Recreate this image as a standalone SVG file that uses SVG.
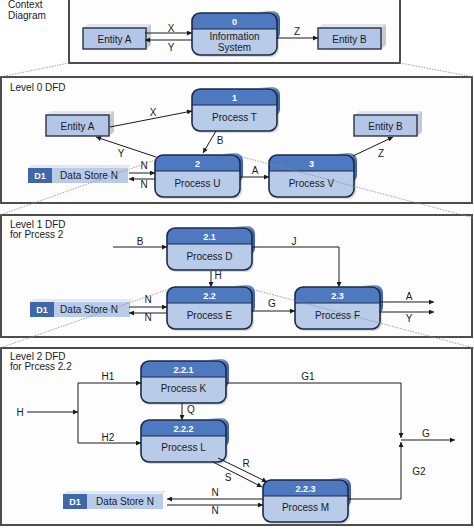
<svg xmlns="http://www.w3.org/2000/svg" width="474" height="529" viewBox="0 0 474 529">
<style>
text{font-family:"Liberation Sans",Arial,sans-serif;font-size:10px;fill:#1a1a1a}
.c{text-anchor:middle}
.h{font-size:9px;font-weight:bold;fill:#fff;text-anchor:middle}
.ln{fill:none;stroke:#1a1a1a;stroke-width:1}
.ar{marker-end:url(#ah)}
.pn{fill:#fdfdfd;stroke:#4d4d4d;stroke-width:2}
.dl{stroke:#8c8c8c;stroke-width:0.8;stroke-dasharray:1.5 1.2;fill:none}
</style>
<defs>
<marker id="ah" viewBox="0 0 10 10" refX="10" refY="5" markerWidth="7" markerHeight="5" markerUnits="userSpaceOnUse" orient="auto"><path d="M0,0 L10,5 L0,10 Z" fill="#1a1a1a"/></marker>
<linearGradient id="sh" x1="0" x2="1" y1="0" y2="0"><stop offset="0.75" stop-color="#3560a8" stop-opacity="0"/><stop offset="1" stop-color="#3560a8"/></linearGradient>
<g id="proc">
<rect x="2" y="2" width="85" height="42" rx="8" fill="#8f9bb0" opacity="0.35"/>
<rect x="3" y="-2" width="85" height="30" rx="8" fill="url(#sh)"/>
<rect width="85" height="42" rx="8" fill="#b8cbe9"/>
<path d="M0,16 V8 A8,8 0 0 1 8,0 H77 A8,8 0 0 1 85,8 V16 Z" fill="#4e78bf"/>
<path d="M0,16 H85" stroke="#1d2a45" stroke-width="1"/>
<rect width="85" height="42" rx="8" fill="none" stroke="#1d2a45" stroke-width="1.6"/>
</g>
<g id="ent">
<path d="M0,0 L5,-4 H68 L63,0 Z" fill="#e1e5ec"/>
<path d="M63,0 L68,-4 V17 L63,21 Z" fill="#c4cad5"/>
<rect width="63" height="21" fill="#b3c6e7" stroke="#2b3340" stroke-width="1.4"/>
</g>
<g id="ds">
<path d="M0,0 L4,-3 H103 L100,0 Z" fill="#e4e8ef"/>
<rect width="100" height="15" fill="#b9cbeb"/>
<rect width="24" height="15" fill="#3f67aa"/>
<text x="12" y="11" class="h">D1</text>
</g>
</defs>

<!-- panels -->
<g id="panels">
<rect class="pn" x="69" y="-1" width="331" height="64"/>
<rect class="pn" x="1" y="77" width="471" height="126"/>
<rect class="pn" x="1" y="215" width="471" height="122"/>
<rect class="pn" x="1" y="348" width="471" height="177"/>
<text x="8" y="8">Context</text>
<text x="8" y="19">Diagram</text>
<text x="10" y="91">Level 0 DFD</text>
<text x="10" y="228">Level 1 DFD</text>
<text x="10" y="238">for Prcess 2</text>
<text x="10" y="360">Level 2 DFD</text>
<text x="10" y="370">for Prcess 2.2</text>
</g>

<!-- nodes: context -->
<g id="ctx-entityA" transform="translate(83,28)"><use href="#ent"/><text x="31.5" y="14.5" class="c">Entity A</text></g>
<g id="ctx-infosys" transform="translate(192,13)"><use href="#proc"/><text x="42.5" y="11.5" class="h">0</text><text x="42.5" y="27" class="c">Information</text><text x="42.5" y="37.5" class="c">System</text></g>
<g id="ctx-entityB" transform="translate(318,28)"><use href="#ent"/><text x="31.5" y="14.5" class="c">Entity B</text></g>

<!-- level 0 -->
<g id="l0-entityA" transform="translate(46,115)"><use href="#ent"/><text x="31.5" y="14.5" class="c">Entity A</text></g>
<g id="l0-entityB" transform="translate(354,115)"><use href="#ent"/><text x="31.5" y="14.5" class="c">Entity B</text></g>
<g id="l0-p1" transform="translate(192,89)"><use href="#proc"/><text x="42.5" y="11.5" class="h">1</text><text x="42.5" y="32" class="c">Process T</text></g>
<g id="l0-p2" transform="translate(155,155)"><use href="#proc"/><text x="42.5" y="11.5" class="h">2</text><text x="42.5" y="32" class="c">Process U</text></g>
<g id="l0-p3" transform="translate(269,155)"><use href="#proc"/><text x="42.5" y="11.5" class="h">3</text><text x="42.5" y="32" class="c">Process V</text></g>
<g id="l0-ds" transform="translate(28,168)"><use href="#ds"/><text x="61" y="11" class="c">Data Store N</text></g>

<!-- level 1 -->
<g id="l1-p21" transform="translate(167,228)"><use href="#proc"/><text x="42.5" y="11.5" class="h">2.1</text><text x="42.5" y="32" class="c">Process D</text></g>
<g id="l1-p22" transform="translate(167,287)"><use href="#proc"/><text x="42.5" y="11.5" class="h">2.2</text><text x="42.5" y="32" class="c">Process E</text></g>
<g id="l1-p23" transform="translate(295,287)"><use href="#proc"/><text x="42.5" y="11.5" class="h">2.3</text><text x="42.5" y="32" class="c">Process F</text></g>
<g id="l1-ds" transform="translate(30,302)"><use href="#ds"/><text x="59" y="11" class="c">Data Store N</text></g>

<!-- level 2 -->
<g id="l2-p221" transform="translate(141,361)"><use href="#proc"/><text x="42.5" y="11.5" class="h">2.2.1</text><text x="42.5" y="31" class="c">Process K</text></g>
<g id="l2-p222" transform="translate(141,420)"><use href="#proc"/><text x="42.5" y="11.5" class="h">2.2.2</text><text x="42.5" y="31" class="c">Process L</text></g>
<g id="l2-p223" transform="translate(263,480)"><use href="#proc"/><text x="42.5" y="11.5" class="h">2.2.3</text><text x="42.5" y="31" class="c">Process M</text></g>
<g id="l2-ds" transform="translate(63,494)"><use href="#ds"/><text x="62" y="11" class="c">Data Store N</text></g>

<!-- connectors -->
<g id="connectors">
<path class="ln ar" d="M145,33 H192"/>
<path class="ln ar" d="M192,40 H145"/>
<path class="ln ar" d="M277,38 H318"/>
<text x="171" y="32" class="c">X</text>
<text x="171" y="51" class="c">Y</text>
<text x="297" y="35" class="c">Z</text>

<path class="ln ar" d="M110,127 L192,111"/>
<path class="ln ar" d="M156,157 L96,137"/>
<path class="ln ar" d="M216,131 L203,153"/>
<path class="ln ar" d="M353,156 L393,137"/>
<path class="ln ar" d="M240,177 H269"/>
<path class="ln ar" d="M129,173 H155"/>
<path class="ln ar" d="M155,179 H129"/>
<text x="153" y="116" class="c">X</text>
<text x="121" y="157" class="c">Y</text>
<text x="220" y="144" class="c">B</text>
<text x="381" y="157" class="c">Z</text>
<text x="255" y="174" class="c">A</text>
<text x="144" y="169" class="c">N</text>
<text x="144" y="188" class="c">N</text>

<path class="ln ar" d="M113,247 H167"/>
<path class="ln ar" d="M252,247 H339 V287"/>
<path class="ln ar" d="M211,271 V287"/>
<path class="ln ar" d="M252,311 H295"/>
<path class="ln ar" d="M129,307 H167"/>
<path class="ln ar" d="M167,313 H129"/>
<path class="ln ar" d="M380,302 H434"/>
<path class="ln ar" d="M380,312 H434"/>
<text x="140" y="245" class="c">B</text>
<text x="294" y="245" class="c">J</text>
<text x="218" y="279" class="c">H</text>
<text x="272" y="307" class="c">G</text>
<text x="148" y="303" class="c">N</text>
<text x="148" y="321" class="c">N</text>
<text x="409" y="300" class="c">A</text>
<text x="409" y="322" class="c">Y</text>

<path class="ln ar" d="M27,412 H78"/>
<path class="ln" d="M78,383 V443"/>
<path class="ln ar" d="M78,383 H141"/>
<path class="ln ar" d="M78,443 H141"/>
<path class="ln ar" d="M182,403 V420"/>
<path class="ln ar" d="M226,383 H401 V438"/>
<path class="ln ar" d="M348,499 H401 V442"/>
<path class="ln ar" d="M401,440 H455"/>
<path class="ln ar" d="M218,458 L267,482"/>
<path class="ln ar" d="M213,462 L262,487"/>
<path class="ln ar" d="M263,499 H167"/>
<path class="ln ar" d="M167,505 H263"/>
<text x="20" y="416" class="c">H</text>
<text x="108" y="380" class="c">H1</text>
<text x="108" y="441" class="c">H2</text>
<text x="191" y="413" class="c">Q</text>
<text x="308" y="380" class="c">G1</text>
<text x="419" y="475" class="c">G2</text>
<text x="426" y="437" class="c">G</text>
<text x="246" y="467" class="c">R</text>
<text x="228" y="481" class="c">S</text>
<text x="215" y="496" class="c">N</text>
<text x="215" y="514" class="c">N</text>

<path class="dl" d="M69,63 L0,77"/>
<path class="dl" d="M400,63 L474,77"/>
<path class="dl" d="M158,159 L0,215"/>
<path class="dl" d="M239,156 L474,218"/>
<path class="dl" d="M169,289 L0,348"/>
<path class="dl" d="M251,289 L474,348"/>
</g>
</svg>
